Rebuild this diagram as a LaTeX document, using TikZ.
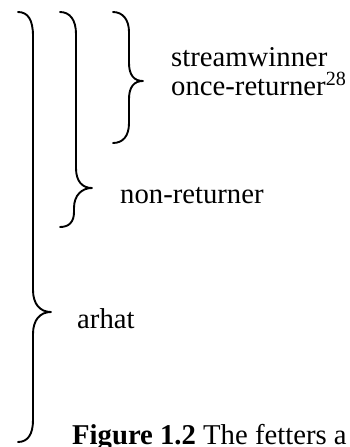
\documentclass[tikz,border=0pt]{standalone}
\usepackage{fontspec}
\setmainfont{Liberation Serif}
\begin{document}
\begin{tikzpicture}[x=1pt,y=-1pt,
  bracestroke/.style={line width=1.9pt, line cap=round, line join=round},
  label/.style={anchor=base west, inner sep=0pt, font=\fontsize{28.7pt}{29pt}\selectfont}]
\useasboundingbox (0,0) rectangle (349,447);
% outer brace (arhat)
\draw[bracestroke] (18,12) .. controls (28,12) and (33,20) .. (33,36)
  -- (33,290) .. controls (33,304) and (40,312) .. (51,312)
  .. controls (40,312) and (33,320) .. (33,334)
  -- (33,420) .. controls (33,434) and (28,442) .. (18,442);
\coordinate (tipA) at (51,312);
% middle brace (non-returner)
\draw[bracestroke] (60,12) .. controls (70,12) and (76,20) .. (76,34)
  -- (76,168) .. controls (76,181) and (82,188) .. (92,188)
  .. controls (82,188) and (74,195) .. (74,208)
  -- (74,212) .. controls (74,222) and (69,227) .. (60,227);
\coordinate (tipB) at (92,188);
% inner brace (streamwinner, once-returner)
\draw[bracestroke] (113,12) .. controls (123,12) and (129,20) .. (129,32)
  -- (129,63) .. controls (129,75) and (134,81) .. (143,81)
  .. controls (134,81) and (129,87) .. (129,99)
  -- (129,123) .. controls (129,136) and (123,143) .. (113,143);
\coordinate (tipC) at (143,81);
\node[label] (sw) at (171,66) {streamwinner};
\node[label] (or) at (171,95) {once-returner\textsuperscript{28}};
\node[label] (nr) at (120,203) {non-returner};
\node[label] (ar) at (77,328) {arhat};
\node[label] (cap) at (72,444) {\textbf{Figure 1.2} The fetters a};
\end{tikzpicture}
\end{document}
